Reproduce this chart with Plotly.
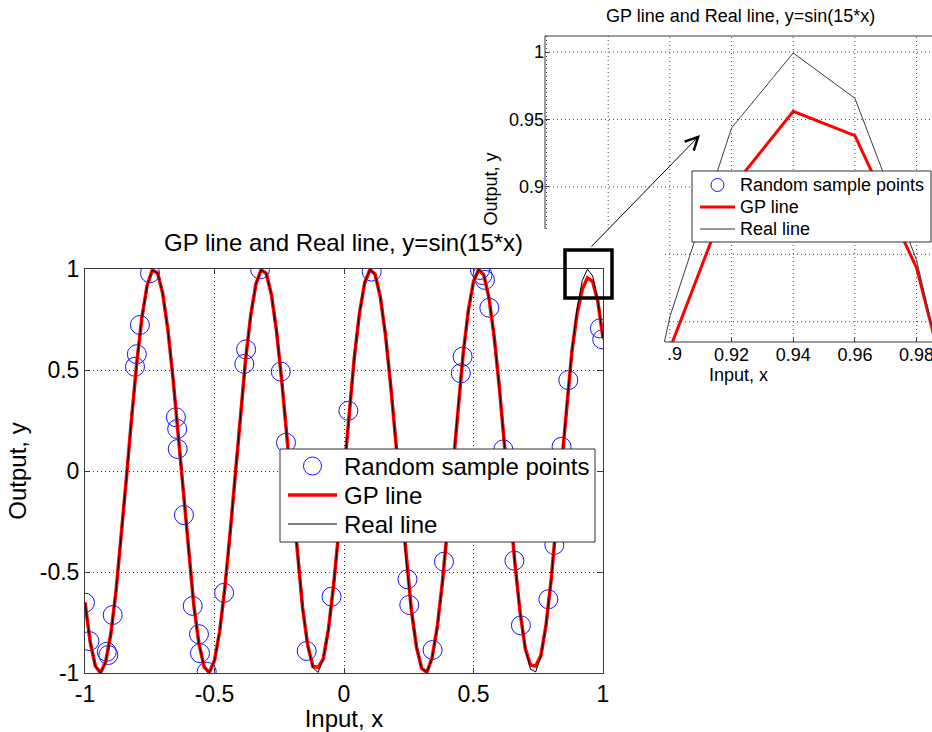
import plotly.graph_objects as go

# Sampling grid of the curves (step 0.02 on [-1, 1])
x_grid = [
    -1.00, -0.98, -0.96, -0.94, -0.92, -0.90, -0.88, -0.86, -0.84, -0.82,
    -0.80, -0.78, -0.76, -0.74, -0.72, -0.70, -0.68, -0.66, -0.64, -0.62,
    -0.60, -0.58, -0.56, -0.54, -0.52, -0.50, -0.48, -0.46, -0.44, -0.42,
    -0.40, -0.38, -0.36, -0.34, -0.32, -0.30, -0.28, -0.26, -0.24, -0.22,
    -0.20, -0.18, -0.16, -0.14, -0.12, -0.10, -0.08, -0.06, -0.04, -0.02,
    0.00,
    0.02, 0.04, 0.06, 0.08, 0.10, 0.12, 0.14, 0.16, 0.18, 0.20,
    0.22, 0.24, 0.26, 0.28, 0.30, 0.32, 0.34, 0.36, 0.38, 0.40,
    0.42, 0.44, 0.46, 0.48, 0.50, 0.52, 0.54, 0.56, 0.58, 0.60,
    0.62, 0.64, 0.66, 0.68, 0.70, 0.72, 0.74, 0.76, 0.78, 0.80,
    0.82, 0.84, 0.86, 0.88, 0.90, 0.92, 0.94, 0.96, 0.98, 1.00,
]

# Real line, y = sin(15*x)
real_y = [
    -0.6503, -0.8457, -0.9657, -0.9993, -0.9437, -0.8038, -0.5921, -0.3275, -0.0336, 0.2632,
    0.5366, 0.7620, 0.9193, 0.9945, 0.9809, 0.8797, 0.6999, 0.4575, 0.1743, -0.1245,
    -0.4121, -0.6630, -0.8546, -0.9699, -0.9985, -0.9380, -0.7937, -0.5784, -0.3115, -0.0168,
    0.2794, 0.5507, 0.7728, 0.9258, 0.9962, 0.9775, 0.8716, 0.6878, 0.4425, 0.1577,
    -0.1411, -0.4274, -0.6755, -0.8632, -0.9738, -0.9975, -0.9320, -0.7833, -0.5646, -0.2955,
    0.0000,
    0.2955, 0.5646, 0.7833, 0.9320, 0.9975, 0.9738, 0.8632, 0.6755, 0.4274, 0.1411,
    -0.1577, -0.4425, -0.6878, -0.8716, -0.9775, -0.9962, -0.9258, -0.7728, -0.5507, -0.2794,
    0.0168, 0.3115, 0.5784, 0.7937, 0.9380, 0.9985, 0.9699, 0.8546, 0.6630, 0.4121,
    0.1245, -0.1743, -0.4575, -0.6999, -0.8797, -0.9809, -0.9945, -0.9193, -0.7620, -0.5366,
    -0.2632, 0.0336, 0.3275, 0.5921, 0.8038, 0.9437, 0.9993, 0.9657, 0.8457, 0.6503,
]

# GP regression mean on the same grid
gp_y = [
    -0.6503, -0.8457, -0.9657, -0.9993, -0.9437, -0.8038, -0.5921, -0.3275, -0.0336, 0.2632,
    0.5366, 0.7620, 0.9193, 0.9945, 0.9809, 0.8797, 0.6999, 0.4575, 0.1743, -0.1245,
    -0.4121, -0.6630, -0.8546, -0.9699, -0.9985, -0.9380, -0.7937, -0.5784, -0.3115, -0.0168,
    0.2794, 0.5507, 0.7728, 0.9258, 0.9962, 0.9775, 0.8716, 0.6878, 0.4425, 0.1577,
    -0.1411, -0.4274, -0.6755, -0.8632, -0.9680, -0.9720, -0.9300, -0.7833, -0.5646, -0.2955,
    0.0000,
    0.2955, 0.5646, 0.7833, 0.9320, 0.9975, 0.9738, 0.8632, 0.6755, 0.4274, 0.1411,
    -0.1577, -0.4425, -0.6878, -0.8716, -0.9775, -0.9962, -0.9258, -0.7728, -0.5507, -0.2794,
    0.0168, 0.3115, 0.5784, 0.7937, 0.9380, 0.9985, 0.9699, 0.8546, 0.6630, 0.4121,
    0.1245, -0.1743, -0.4575, -0.6999, -0.8797, -0.9600, -0.9650, -0.9150, -0.7620, -0.5366,
    -0.2632, 0.0336, 0.3275, 0.5921, 0.7800, 0.8990, 0.9560, 0.9380, 0.8400, 0.6600,
]

# Random training samples
sample_x = [
    -0.749, -0.788, -0.800, -0.807, -0.649, -0.644, -0.642, -0.324, -0.378, -0.385,
    -0.244, -0.224, 0.107, 0.017, 0.525, 0.535, 0.544, 0.561, 0.458, 0.451,
    0.866, 0.988, 0.997, 0.840, 0.615, 0.812, 0.658, 0.386, -1.000, -0.983,
    -0.916, -0.910, -0.893, -0.618, -0.584, -0.560, -0.556, -0.530, -0.463, -0.144,
    -0.048, 0.245, 0.252, 0.342, 0.683, 0.789,
]
sample_y = [
    0.979, 0.723, 0.578, 0.516, 0.266, 0.208, 0.109, 0.998, 0.602, 0.530,
    0.492, 0.140, 0.987, 0.298, 0.995, 0.970, 0.946, 0.808, 0.566, 0.484,
    0.450, 0.706, 0.652, 0.120, 0.107, -0.366, -0.444, -0.449, -0.652, -0.842,
    -0.895, -0.911, -0.713, -0.218, -0.668, -0.808, -0.902, -0.994, -0.603, -0.891,
    -0.622, -0.536, -0.663, -0.886, -0.764, -0.635,
]

main_ticks = [-1, -0.5, 0, 0.5, 1]
main_ticktext = ["-1", "-0.5", "0", "0.5", "1"]
inset_xticks = [0.92, 0.94, 0.96, 0.98]
inset_xticktext = ["0.92", "0.94", "0.96", "0.98"]
inset_yticks = [0.9, 0.95, 1.0]
inset_yticktext = ["0.9", "0.95", "1"]
inset_xgrid = [0.86, 0.88, 0.90, 0.92, 0.94, 0.96, 0.98]
inset_ygrid = [0.80, 0.85, 0.90, 0.95, 1.00]
legend_labels = ["Random sample points", "GP line", "Real line"]

TITLE = "GP line and Real line, y=sin(15*x)"
FONT = "Liberation Sans, Arial, Helvetica, sans-serif"
W, H = 932, 732
BLUE = "rgb(20,20,255)"
RED = "rgb(255,0,0)"


def px(xp):
    return xp / W


def py(yp):
    return 1 - yp / H


fig = go.Figure()

# ---- main axes ----
fig.add_trace(go.Scatter(
    x=sample_x, y=sample_y, mode="markers", name=legend_labels[0],
    marker=dict(symbol="circle-open", size=19, color=BLUE, line=dict(width=1)),
    xaxis="x", yaxis="y",
))
fig.add_trace(go.Scatter(
    x=x_grid, y=gp_y, mode="lines", name=legend_labels[1],
    line=dict(color=RED, width=3.5), xaxis="x", yaxis="y",
))
fig.add_trace(go.Scatter(
    x=x_grid, y=real_y, mode="lines", name=legend_labels[2],
    line=dict(color="black", width=1), xaxis="x", yaxis="y",
))

# ---- zoomed inset axes ----
fig.add_trace(go.Scatter(
    x=sample_x, y=sample_y, mode="markers", name=legend_labels[0],
    marker=dict(symbol="circle-open", size=13, color=BLUE, line=dict(width=1)),
    xaxis="x2", yaxis="y2",
))
fig.add_trace(go.Scatter(
    x=x_grid, y=gp_y, mode="lines", name=legend_labels[1],
    line=dict(color=RED, width=3), xaxis="x2", yaxis="y2",
))
fig.add_trace(go.Scatter(
    x=x_grid, y=real_y, mode="lines", name=legend_labels[2],
    line=dict(color="rgb(60,60,60)", width=1), xaxis="x2", yaxis="y2",
))

GRID_DASH = "1px,3px"
axis_common = dict(
    showline=True, linecolor="#3a3a3a", linewidth=1, mirror="ticks",
    ticks="inside", ticklen=5, tickcolor="#3a3a3a",
    showgrid=True, gridcolor="#333333", griddash=GRID_DASH, gridwidth=1,
    zeroline=False, tickfont=dict(size=23, color="black"),
)

fig.update_layout(
    width=W, height=H, template="none", showlegend=False,
    margin=dict(l=0, r=0, t=0, b=0),
    paper_bgcolor="white", plot_bgcolor="rgba(0,0,0,0)",
    font=dict(family=FONT, color="black"),
    xaxis=dict(
        axis_common, domain=[px(85), px(603)], range=[-1, 1],
        tickvals=main_ticks, ticktext=main_ticktext,
        title=dict(text="Input, x", font=dict(size=24), standoff=4),
        anchor="y",
    ),
    yaxis=dict(
        axis_common, domain=[py(673), py(269)], range=[-1, 1],
        tickvals=main_ticks, ticktext=main_ticktext,
        title=dict(text="Output, y", font=dict(size=24), standoff=6),
        anchor="x",
    ),
    xaxis2=dict(
        domain=[px(545), 1.0], range=[0.8595, 0.985], anchor="y2",
        showline=False, showgrid=False, zeroline=False,
        ticks="inside", ticklen=4, tickcolor="#3a3a3a",
        tickvals=inset_xticks, ticktext=inset_xticktext,
        ticklabeloverflow="allow",
        tickfont=dict(size=18, color="black"),
        title=dict(text="Input, x", font=dict(size=18), standoff=2),
    ),
    yaxis2=dict(
        domain=[py(342), py(36)], range=[0.785, 1.0119], anchor="x2",
        showline=False, showgrid=False, zeroline=False,
        ticks="inside", ticklen=4, tickcolor="#3a3a3a",
        tickvals=inset_yticks, ticktext=inset_yticktext,
        tickfont=dict(size=18, color="black"),
        title=dict(text="Output, y", font=dict(size=18), standoff=6),
    ),
)

shapes = []
dot = dict(color="#444444", width=1, dash=GRID_DASH)
# inset grid (its lower-left corner sits behind the main figure's panel)
for gx in inset_xgrid:
    bottom = py(229) if gx < 0.895 else py(342)
    shapes.append(dict(type="line", xref="x2", yref="paper", x0=gx, x1=gx,
                       y0=bottom, y1=py(36), line=dot, layer="below"))
for gy in inset_ygrid:
    left = px(545) if gy > 0.875 else px(665)
    shapes.append(dict(type="line", xref="paper", yref="y2", x0=left, x1=1.0,
                       y0=gy, y1=gy, line=dot, layer="below"))
# inset frame: top, upper part of the left edge, right part of the bottom
frame = dict(color="#3a3a3a", width=1)
shapes.append(dict(type="line", xref="paper", yref="paper",
                   x0=px(545), x1=1.0, y0=py(36), y1=py(36), line=frame))
shapes.append(dict(type="line", xref="paper", yref="paper",
                   x0=px(545), x1=px(545), y0=py(36), y1=py(229), line=frame))
shapes.append(dict(type="line", xref="paper", yref="paper",
                   x0=px(665), x1=1.0, y0=py(342), y1=py(342), line=frame))
# zoom box around the last peak
shapes.append(dict(type="rect", xref="paper", yref="paper",
                   x0=px(565), x1=px(612), y0=py(298), y1=py(250),
                   line=dict(color="black", width=3.5)))


def legend_box(left, top, right, bottom, sym_l, sym_r, rows, circle_d,
               red_w, real_color):
    out = [dict(type="rect", xref="paper", yref="paper",
                x0=px(left), x1=px(right), y0=py(bottom), y1=py(top),
                line=dict(color="#333333", width=1), fillcolor="white")]
    cx = (sym_l + sym_r) / 2
    r = circle_d / 2
    out.append(dict(type="circle", xref="paper", yref="paper",
                    x0=px(cx - r), x1=px(cx + r),
                    y0=py(rows[0] + r), y1=py(rows[0] - r),
                    line=dict(color=BLUE, width=1)))
    out.append(dict(type="line", xref="paper", yref="paper",
                    x0=px(sym_l), x1=px(sym_r), y0=py(rows[1]), y1=py(rows[1]),
                    line=dict(color=RED, width=red_w)))
    out.append(dict(type="line", xref="paper", yref="paper",
                    x0=px(sym_l), x1=px(sym_r), y0=py(rows[2]), y1=py(rows[2]),
                    line=dict(color=real_color, width=1)))
    return out


main_rows = [466, 495, 524]
inset_rows = [185, 207, 229]
shapes += legend_box(280, 449, 595, 542, 288, 337, main_rows, 18, 3.5, "black")
shapes += legend_box(692, 171, 931, 242, 700, 735, inset_rows, 13, 3, "#333333")
fig.update_layout(shapes=shapes)

annotations = [
    dict(text=TITLE, xref="paper", yref="paper", x=px(343), y=py(243),
         xanchor="center", yanchor="middle", showarrow=False,
         font=dict(size=24, color="black")),
    dict(text=TITLE, xref="paper", yref="paper", x=px(740), y=py(16),
         xanchor="center", yanchor="middle", showarrow=False,
         font=dict(size=18, color="black")),
    dict(text=".9", xref="paper", yref="paper", x=px(665), y=py(354),
         xanchor="left", yanchor="middle", showarrow=False,
         font=dict(size=18, color="black")),
    dict(text="", xref="paper", yref="paper", x=px(700), y=py(135),
         ax=-110, ay=113, showarrow=True, arrowhead=5, arrowsize=2.5,
         arrowwidth=1, arrowcolor="black"),
]
for label, row in zip(legend_labels, main_rows):
    annotations.append(dict(text=label, xref="paper", yref="paper",
                            x=px(342), y=py(row), xanchor="left", yanchor="middle",
                            showarrow=False, font=dict(size=24, color="black")))
for label, row in zip(legend_labels, inset_rows):
    annotations.append(dict(text=label, xref="paper", yref="paper",
                            x=px(738), y=py(row), xanchor="left", yanchor="middle",
                            showarrow=False, font=dict(size=18, color="black")))
fig.update_layout(annotations=annotations)

fig.write_html("out.html")
